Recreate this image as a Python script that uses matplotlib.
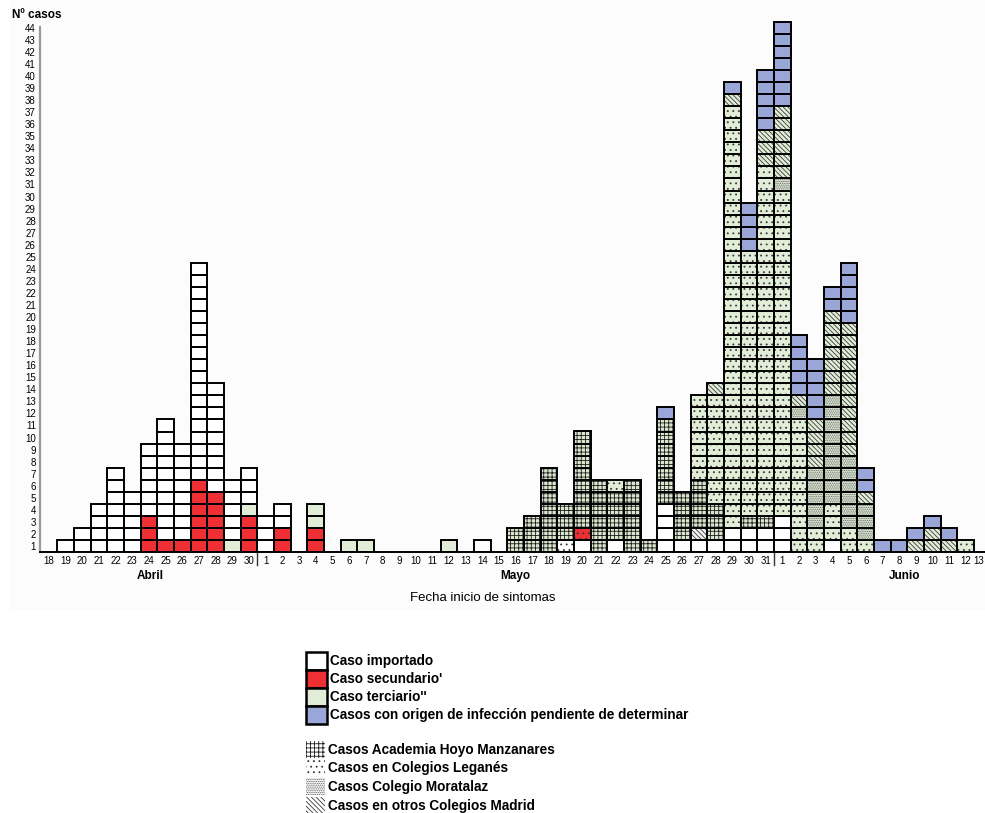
import matplotlib
matplotlib.use("Agg")
import matplotlib.pyplot as plt
import matplotlib.transforms as mtransforms
from matplotlib.patches import Rectangle

plt.rcParams['font.family'] = ['Liberation Sans', 'DejaVu Sans']
plt.rcParams['hatch.linewidth'] = 0.6

# day labels on the x axis: 18-30 April, 1-31 May, 1-13 June
days_abril = [str(d) for d in range(18, 31)]
days_mayo = [str(d) for d in range(1, 32)]
days_junio = [str(d) for d in range(1, 14)]
day_labels = days_abril + days_mayo + days_junio
months = ['Abril', 'Mayo', 'Junio']

# cases per day, stacked bottom -> top as (type, count)
# W importado, R secundario, G terciario, B pendiente
# H Hoyo Manzanares, L Leganés, M Moratalaz, O otros colegios
# l / r / o : Leganés on white, Leganés on red, otros on white
stacks_abril = [
    [],
    [('W', 1)],
    [('W', 2)],
    [('W', 4)],
    [('W', 7)],
    [('W', 5)],
    [('R', 3), ('W', 6)],
    [('R', 1), ('W', 10)],
    [('R', 1), ('W', 8)],
    [('R', 6), ('W', 18)],
    [('R', 5), ('W', 9)],
    [('G', 1), ('W', 5)],
    [('R', 3), ('G', 1), ('W', 3)],
]
stacks_mayo = [
    [('W', 3)],
    [('R', 2), ('W', 2)],
    [],
    [('R', 2), ('G', 2)],
    [],
    [('G', 1)],
    [('G', 1)],
    [], [], [], [],
    [('G', 1)],
    [],
    [('W', 1)],
    [],
    [('H', 2)],
    [('H', 3)],
    [('H', 7)],
    [('l', 1), ('H', 3)],
    [('W', 1), ('r', 1), ('H', 8)],
    [('H', 6)],
    [('W', 1), ('H', 4), ('L', 1)],
    [('H', 6)],
    [('H', 1)],
    [('W', 4), ('H', 7), ('B', 1)],
    [('W', 1), ('H', 4)],
    [('W', 1), ('o', 1), ('H', 4), ('L', 7)],
    [('W', 1), ('H', 3), ('L', 9), ('O', 1)],
    [('W', 2), ('L', 35), ('O', 1), ('B', 1)],
    [('W', 2), ('H', 1), ('L', 22), ('B', 4)],
    [('W', 2), ('H', 1), ('L', 29), ('O', 3), ('B', 5)],
]
stacks_junio = [
    [('W', 3), ('L', 27), ('M', 1), ('O', 6), ('B', 7)],
    [('L', 11), ('M', 1), ('O', 1), ('B', 5)],
    [('L', 2), ('M', 5), ('O', 4), ('B', 5)],
    [('W', 1), ('L', 3), ('M', 9), ('O', 7), ('B', 2)],
    [('L', 2), ('M', 6), ('O', 11), ('B', 5)],
    [('L', 1), ('M', 3), ('O', 1), ('B', 2)],
    [('B', 1)],
    [('B', 1)],
    [('O', 1), ('B', 1)],
    [('O', 2), ('B', 1)],
    [('O', 1), ('B', 1)],
    [('L', 1)],
    [],
]
stacks = stacks_abril + stacks_mayo + stacks_junio

legend_origin = ['Caso importado', 'Caso secundario\'', 'Caso terciario\'\'',
                 'Casos con origen de infección pendiente de determinar']
legend_school = ['Casos Academia Hoyo Manzanares', 'Casos en Colegios Leganés',
                 'Casos Colegio Moratalaz', 'Casos en otros Colegios Madrid']

RED = '#ee2f33'
GREEN = '#e1edd7'
BLUE = '#9aa6d8'
DIAG = '\\\\\\\\\\\\\\'
# face colour, hatch, hatch colour
styles = {
    'W': ('white', None, None),
    'R': (RED, None, None),
    'G': (GREEN, None, None),
    'B': (BLUE, None, None),
    'H': ('#d9e5cd', '++++', '#1c1c1c'),
    'L': (GREEN, '...', '#3a3a3a'),
    'M': (GREEN, '.........', '#5e5e5e'),
    'O': (GREEN, DIAG, '#3a3a3a'),
    'l': ('white', '...', '#3a3a3a'),
    'r': (RED, '...', '#333333'),
    'o': ('#f2f2f2', DIAG, '#3a3a3a'),
}

W, H = 985, 813
fig = plt.figure(figsize=(W / 100, H / 100), dpi=100)

# background / legend layer in pixel coords
lax = fig.add_axes([0, 0, 1, 1])
lax.set_xlim(0, W)
lax.set_ylim(H, 0)
lax.axis('off')
lax.add_patch(Rectangle((10, 0), 975, 610, facecolor='#fbfcfb', edgecolor='none'))

cell_h = 12.05
ytop = 44.6
ax = fig.add_axes([40 / W, (H - 552) / H, (W - 40) / W, ytop * cell_h / H])
ax.patch.set_alpha(0)

for i, stack in enumerate(stacks):
    base = 0
    for code, n in stack:
        fc, hatch, hc = styles[code]
        for k in range(n):
            if hatch:
                ax.bar(i, 1, bottom=base, width=1, color=fc, hatch=hatch,
                       edgecolor=hc, linewidth=0)
                ax.bar(i, 1, bottom=base, width=1, fill=False,
                       edgecolor='black', linewidth=1.4)
            else:
                ax.bar(i, 1, bottom=base, width=1, color=fc,
                       edgecolor='black', linewidth=1.4)
            base += 1

ax.set_xlim(-0.54, 56.15)
ax.set_ylim(0, ytop)
for s in ['top', 'right']:
    ax.spines[s].set_visible(False)
ax.spines['left'].set_color('#999999')
ax.spines['left'].set_linewidth(1.6)
ax.spines['left'].set_bounds(0, 43.6)
ax.spines['bottom'].set_linewidth(1.4)

ax.set_yticks([n - 0.5 for n in range(1, 45)])
ax.set_yticklabels([str(n) for n in range(1, 45)], fontsize=7)
ax.set_xticks(range(len(day_labels)))
ax.set_xticklabels(day_labels, fontsize=7)
ax.tick_params(axis='both', length=0, pad=3)
# keep the last day label inside the picture
last = ax.get_xticklabels()[-1]
last.set_transform(last.get_transform() +
                   mtransforms.ScaledTranslation(-4 / 100, 0, fig.dpi_scale_trans))

# month separators below the axis
n_ab, n_my = len(days_abril), len(days_mayo)
for xs in [n_ab - 0.5, n_ab + n_my - 0.5]:
    ax.plot([xs, xs], [0, -1.1], color='#333333', lw=1.0, clip_on=False)

# month labels
month_pos = [6.05, 27.95, 51.35]
for m, xm in zip(months, month_pos):
    ax.text(xm, -2.0, m, ha='center', va='center', fontsize=8.5,
            fontweight='bold')

lax.text(12, 15, 'Nº casos', ha='left', va='center', fontsize=8.5,
         fontweight='bold')
lax.text(483, 598, 'Fecha inicio de sintomas', ha='center', va='center',
         fontsize=9.5)

# legend: origin of infection
for j, lab in enumerate(legend_origin):
    y0 = 652 + j * 18
    fc = styles['WRGB'[j]][0]
    lax.add_patch(Rectangle((306, y0), 21, 18, facecolor=fc,
                            edgecolor='black', linewidth=1.8))
    lax.text(330, y0 + 9, lab, ha='left', va='center', fontsize=9.8,
             fontweight='bold')

# legend: school clusters
for j, lab in enumerate(legend_school):
    y0 = 741 + j * 18.7
    _, hatch, hc = styles['HLMO'[j]]
    lax.add_patch(Rectangle((306, y0), 19, 17, facecolor='white', hatch=hatch,
                            edgecolor=hc, linewidth=0))
    lax.text(328, y0 + 8.5, lab, ha='left', va='center', fontsize=9.8,
             fontweight='bold')

fig.savefig('out.png', dpi=100)
